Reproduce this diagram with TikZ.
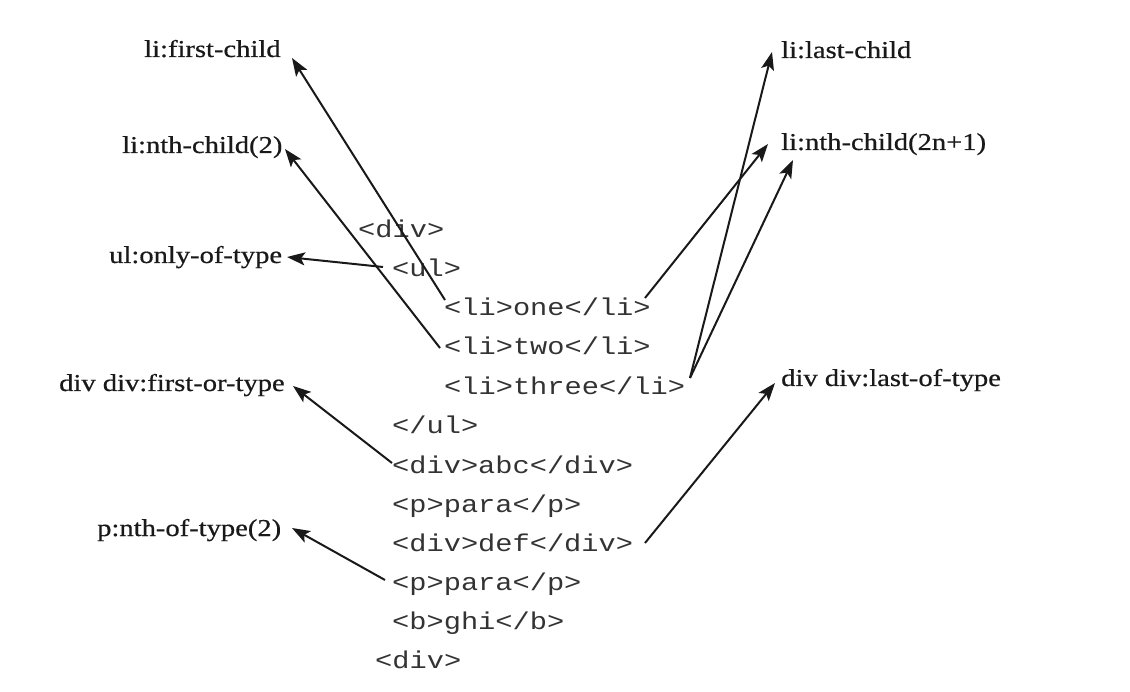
\documentclass[tikz,border=0pt]{standalone}
\usepackage{fontspec}
\usetikzlibrary{arrows.meta}
\newfontfamily\lblfont[FakeStretch=1.18,FakeBold=0.6]{Liberation Serif}
\newfontfamily\codefont[FakeStretch=1.18]{Liberation Mono}
\tikzset{
  lbl/.style={anchor=base west,inner sep=0pt,font=\lblfont\fontsize{24.2}{28}\selectfont,text=black!90},
  code/.style={anchor=base west,inner sep=0pt,font=\codefont\fontsize{24.3}{28}\selectfont,text=black!80},
  arr/.style={line width=2pt,draw=black!90,-{Stealth[length=18pt,width=13pt,inset=4pt]}},
}
\begin{document}
\begin{tikzpicture}[x=1pt,y=-1pt]
\useasboundingbox[fill=white] (0,0) rectangle (1130,692);
% labels
\node[lbl] (fc)  at (144,57)  {li:first-child};
\node[lbl] (n2)  at (122,153) {li:nth-child(2)};
\node[lbl] (ot)  at (109,263) {ul:only-of-type};
\node[lbl] (fot) at (59,391)  {div div:first-or-type};
\node[lbl] (pnt) at (97,536)  {p:nth-of-type(2)};
\node[lbl] (lc)  at (781,58)  {li:last-child};
\node[lbl] (n2n) at (781,150) {li:nth-child(2n+1)};
\node[lbl] (lot) at (781,386) {div div:last-of-type};
% code lines
\node[code] (c0)  at (358,238)   {<div>};
\node[code] (c1)  at (392,277)   {<ul>};
\node[code] (c2)  at (444,316)   {<li>one</li>};
\node[code] (c3)  at (444,355)   {<li>two</li>};
\node[code] (c4)  at (444,394.5) {<li>three</li>};
\node[code] (c5)  at (392,433.5) {</ul>};
\node[code] (c6)  at (392,473)   {<div>abc</div>};
\node[code] (c7)  at (392,512)   {<p>para</p>};
\node[code] (c8)  at (392,551)   {<div>def</div>};
\node[code] (c9)  at (392,590)   {<p>para</p>};
\node[code] (c10) at (392,629)   {<b>ghi</b>};
\node[code] (c11) at (375,668)   {<div>};
% arrows
\draw[arr] ([shift={(1,-16)}]c2.base west) -- ([shift={(148,1)}]fc.base west);
\draw[arr] ([shift={(-4,-7)}]c3.base west) -- ([shift={(163,-4)}]n2.base west);
\draw[arr] ([shift={(-9,-10)}]c1.base west) -- ([shift={(178,-6)}]ot.base west);
\draw[arr] ([shift={(201,-18)}]c2.base west) -- ([shift={(-13,-6)}]n2n.base west);
\draw[arr] ([shift={(246,-16.5)}]c4.base west) -- ([shift={(-9,-6)}]lc.base west);
\draw[arr] ([shift={(246,-16.5)}]c4.base west) -- ([shift={(12,10)}]n2n.base west);
\draw[arr] ([shift={(0,-10)}]c6.base west) -- ([shift={(234,-5)}]fot.base west);
\draw[arr] ([shift={(-7,-10)}]c9.base west) -- ([shift={(195,-8)}]pnt.base west);
\draw[arr] ([shift={(253,-8)}]c8.base west) -- ([shift={(-6,-3)}]lot.base west);
\end{tikzpicture}
\end{document}
